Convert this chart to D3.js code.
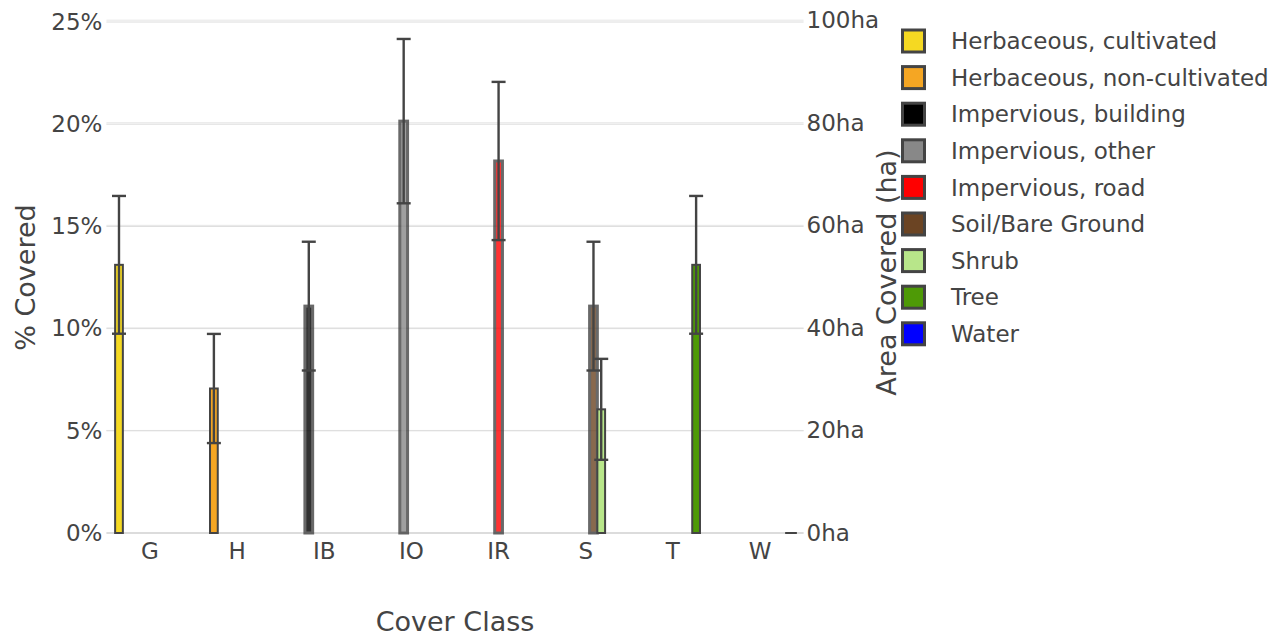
<!DOCTYPE html>
<html>
<head>
<meta charset="utf-8">
<script src="https://cdn.jsdelivr.net/npm/d3@7"></script>
<style>
  html, body { margin: 0; padding: 0; background: #fff; }
  svg { display: block; font-family: "DejaVu Sans", Verdana, sans-serif; }
</style>
</head>
<body>
<svg id="chart" width="1286" height="637"></svg>
<script>
// ---- data ----
const categories = ["G", "H", "IB", "IO", "IR", "S", "T", "W"];
const seriesNames = ["Herbaceous, cultivated", "Herbaceous, non-cultivated", "Impervious, building",
  "Impervious, other", "Impervious, road", "Soil/Bare Ground", "Shrub", "Tree", "Water"];
const seriesColors = ["#f5d922", "#f5a623", "#000000", "#888888", "#ff0000", "#6b4423", "#b8e68a", "#4e9a06", "#0000ff"];
const seriesOpacity = [1, 1, 0.8, 0.8, 0.8, 0.8, 1, 1, 1];
// each bar: series index, category, percent value, error (+/-)
const barSeries = [0, 1, 2, 3, 4, 5, 6, 7, 8];
const barCategory = ["G", "H", "IB", "IO", "IR", "S", "S", "T", "W"];
const barPercent = [13.12, 7.07, 11.1, 20.15, 18.2, 11.1, 6.05, 13.12, 0];
const barError = [3.37, 2.67, 3.15, 4.02, 3.87, 3.15, 2.47, 3.37, 0];
const leftTicks = [0, 5, 10, 15, 20, 25];
const rightTicks = [0, 20, 40, 60, 80, 100];

// ---- layout ----
const svg = d3.select("#chart");
const plot = { left: 106.4, right: 803.6, top: 22, bottom: 533 };
const textColor = "#444";
const tickFont = "23px";
const titleFont = "27px";

const x = d3.scaleBand().domain(categories).range([plot.left, plot.right]).paddingInner(0).paddingOuter(0);
const groupW = x.bandwidth() * 0.8;
const xs = d3.scaleBand().domain(seriesNames).range([-groupW / 2, groupW / 2]);
const yL = d3.scaleLinear().domain([0, 25]).range([plot.bottom, plot.top]);
const yR = d3.scaleLinear().domain([0, 100]).range([plot.bottom, plot.top - 1.8]);

// grid lines
const grid = svg.append("g");
grid.selectAll("line.gr").data(rightTicks.slice(1)).join("line")
  .attr("x1", plot.left).attr("x2", plot.right)
  .attr("y1", d => yR(d)).attr("y2", d => yR(d))
  .attr("stroke", "#e6e6e6").attr("stroke-width", 1);
grid.selectAll("line.gl").data(leftTicks.slice(1)).join("line")
  .attr("x1", plot.left).attr("x2", plot.right)
  .attr("y1", d => yL(d)).attr("y2", d => yL(d))
  .attr("stroke", "#dcdcdc").attr("stroke-width", 1);
grid.append("line")
  .attr("x1", plot.left).attr("x2", plot.right)
  .attr("y1", yL(0)).attr("y2", yL(0))
  .attr("stroke", "#d0d0d0").attr("stroke-width", 1.5);

// left axis
const axL = d3.axisLeft(yL).tickValues(leftTicks).tickFormat(d => d + "%").tickSize(0).tickPadding(4);
const gL = svg.append("g").attr("transform", `translate(${plot.left},0)`).call(axL);
gL.select(".domain").remove();
gL.selectAll("text").attr("fill", textColor).style("font-size", tickFont).style("font-family", "DejaVu Sans");

// right axis
const axR = d3.axisRight(yR).tickValues(rightTicks).tickFormat(d => d + "ha").tickSize(0).tickPadding(3);
const gR = svg.append("g").attr("transform", `translate(${plot.right},0)`).call(axR);
gR.select(".domain").remove();
gR.selectAll("text").attr("fill", textColor).style("font-size", tickFont).style("font-family", "DejaVu Sans");

// bottom axis
const axB = d3.axisBottom(x).tickSize(0).tickPadding(10);
const gB = svg.append("g").attr("transform", `translate(0,${plot.bottom})`).call(axB);
gB.select(".domain").remove();
gB.selectAll("text").attr("fill", textColor).style("font-size", tickFont).style("font-family", "DejaVu Sans");

// bars
const bars = barSeries.map((s, i) => ({
  s, cat: barCategory[i], v: barPercent[i], e: barError[i]
}));
const slot = xs.bandwidth();
const bx = d => x(d.cat) + x.bandwidth() / 2 + xs(seriesNames[d.s]);
const barG = svg.append("g");
barG.selectAll("rect").data(bars.filter(d => d.v > 0)).join("rect")
  .attr("x", bx)
  .attr("width", slot)
  .attr("y", d => yL(d.v))
  .attr("height", d => yL(0) - yL(d.v))
  .attr("fill", d => seriesColors[d.s])
  .attr("stroke", "#444")
  .attr("stroke-width", d => seriesOpacity[d.s] < 1 ? 3 : 2)
  .attr("opacity", d => seriesOpacity[d.s]);
// zero-height bars show only their outline
barG.selectAll("line.zero").data(bars.filter(d => d.v === 0)).join("line")
  .attr("x1", d => bx(d) - 2).attr("x2", d => bx(d) + slot + 2)
  .attr("y1", d => yL(d.v)).attr("y2", d => yL(d.v))
  .attr("stroke", "#444").attr("stroke-width", 2);

// error bars
const errG = svg.append("g").attr("stroke", "#444").attr("stroke-width", 2.4).attr("fill", "none");
const withErr = bars.filter(d => d.e > 0);
const cx = d => bx(d) + slot / 2;
const capW = 7;
errG.selectAll("line.stem").data(withErr).join("line")
  .attr("x1", cx).attr("x2", cx)
  .attr("y1", d => yL(d.v - d.e)).attr("y2", d => yL(d.v + d.e));
errG.selectAll("line.capt").data(withErr).join("line")
  .attr("x1", d => cx(d) - capW).attr("x2", d => cx(d) + capW)
  .attr("y1", d => yL(d.v + d.e)).attr("y2", d => yL(d.v + d.e));
errG.selectAll("line.capb").data(withErr).join("line")
  .attr("x1", d => cx(d) - capW).attr("x2", d => cx(d) + capW)
  .attr("y1", d => yL(d.v - d.e)).attr("y2", d => yL(d.v - d.e));

// axis titles
svg.append("text")
  .attr("transform", `translate(35,${(plot.top + plot.bottom) / 2}) rotate(-90)`)
  .attr("text-anchor", "middle").attr("fill", textColor)
  .style("font-size", titleFont).text("% Covered");
svg.append("text")
  .attr("transform", `translate(896,${(plot.top + plot.bottom) / 2 - 5}) rotate(-90)`)
  .attr("text-anchor", "middle").attr("fill", textColor)
  .style("font-size", titleFont).text("Area Covered (ha)");
svg.append("text")
  .attr("x", (plot.left + plot.right) / 2).attr("y", 631)
  .attr("text-anchor", "middle").attr("fill", textColor)
  .style("font-size", titleFont).text("Cover Class");

// legend
const leg = svg.append("g");
const rowY = i => 41 + i * 36.6;
const items = leg.selectAll("g").data(seriesNames).join("g")
  .attr("transform", (d, i) => `translate(0,${rowY(i)})`);
items.append("rect")
  .attr("x", 902.5).attr("y", -11).attr("width", 22).attr("height", 22)
  .attr("fill", (d, i) => seriesColors[i]).attr("stroke", "#444").attr("stroke-width", 3);
items.append("text")
  .attr("x", 951).attr("y", 0).attr("dy", "0.36em")
  .attr("fill", textColor).style("font-size", tickFont).text(d => d);
</script>
</body>
</html>
